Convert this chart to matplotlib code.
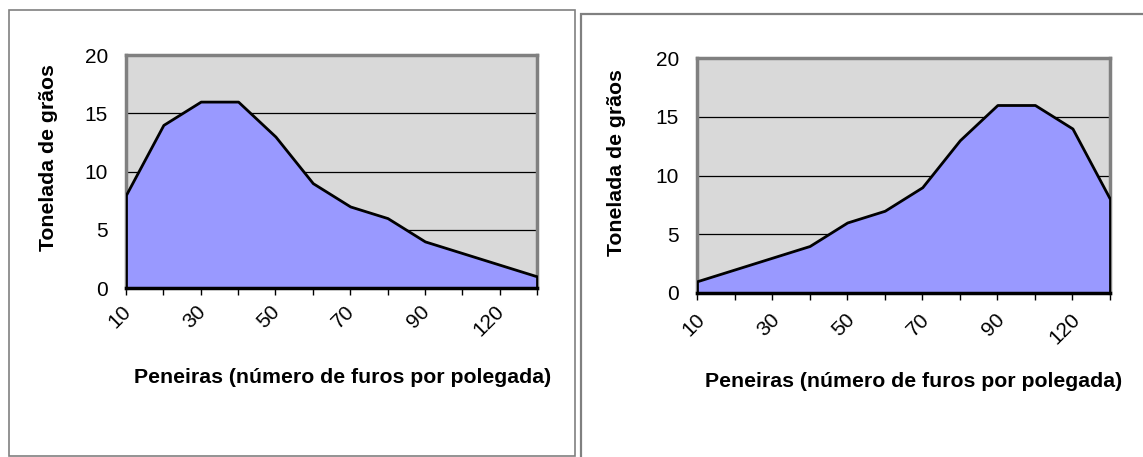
import numpy as np
import matplotlib.pyplot as plt
from matplotlib.patches import Rectangle
from matplotlib.transforms import ScaledTranslation

plt.rcParams['font.family'] = ['Liberation Sans', 'DejaVu Sans']

# sieve sizes (holes per inch) and tonnes of grain
peneiras = [10, 20, 30, 40, 50, 60, 70, 80, 90, 100, 120, 140]
toneladas_esq = [8, 14, 16, 16, 13, 9, 7, 6, 4, 3, 2, 1]
toneladas_dir = [1, 2, 3, 4, 6, 7, 9, 13, 16, 16, 14, 8]
rotulos = ['10', '', '30', '', '50', '', '70', '', '90', '', '120', '']

W, H = 1143, 457
fig = plt.figure(figsize=(W / 100, H / 100), dpi=100)
fig.patch.set_facecolor('white')

# outer chart frames
fig.patches.append(Rectangle((9 / W, 1 - 456 / H), 566 / W, 446 / H,
                             transform=fig.transFigure, fill=False,
                             edgecolor='#808080', lw=1.2, zorder=0))
fig.patches.append(Rectangle((581 / W, -0.1), 0.6, 1 - 14 / H + 0.1,
                             transform=fig.transFigure, fill=False,
                             edgecolor='#808080', lw=1.6, zorder=0))


def grafico(rect, valores, desloc, ylab_xy, xlab_xy):
    ax = fig.add_axes(rect)
    x = np.arange(len(peneiras))
    ax.set_facecolor('#d9d9d9')
    ax.fill_between(x, valores, 0, facecolor='#9999ff', edgecolor='black',
                    lw=2, zorder=3)
    ax.set_xlim(0, len(peneiras) - 1)
    ax.set_ylim(0, 20)
    ax.set_yticks([0, 5, 10, 15, 20])
    for v in [5, 10, 15]:
        ax.axhline(v, color='black', lw=0.9, zorder=1)
    ax.set_xticks(x)
    ax.set_xticklabels(rotulos, rotation=45, ha='right', va='top',
                       rotation_mode='anchor', fontsize=15)
    ax.tick_params(axis='x', length=5, width=1, color='black', pad=3)
    ax.tick_params(axis='y', length=0, pad=13, labelsize=15)
    off = ScaledTranslation(desloc[0] / 100, desloc[1] / 100,
                            fig.dpi_scale_trans)
    for lab in ax.get_xticklabels():
        lab.set_transform(lab.get_transform() + off)
    for s in ax.spines.values():
        s.set_color('#808080')
        s.set_linewidth(2.5)
    ax.spines['bottom'].set_color('black')
    ax.spines['bottom'].set_zorder(4)
    ax.set_ylabel('Tonelada de grãos', fontsize=15.3, fontweight='bold')
    ax.yaxis.set_label_coords(*ylab_xy)
    ax.set_xlabel('Peneiras (número de furos por polegada)', fontsize=15.3,
                  fontweight='bold')
    ax.xaxis.set_label_coords(*xlab_xy)
    return ax


grafico([126 / W, 1 - 288 / H, 411 / W, 233 / H], toneladas_esq, (-5, -3),
        (-0.165, 0.56), (0.526, -0.343))
grafico([697 / W, 1 - 293 / H, 413 / W, 235 / H], toneladas_dir, (-2, -6),
        (-0.172, 0.557), (0.525, -0.336))

fig.savefig('out.png', dpi=100)
